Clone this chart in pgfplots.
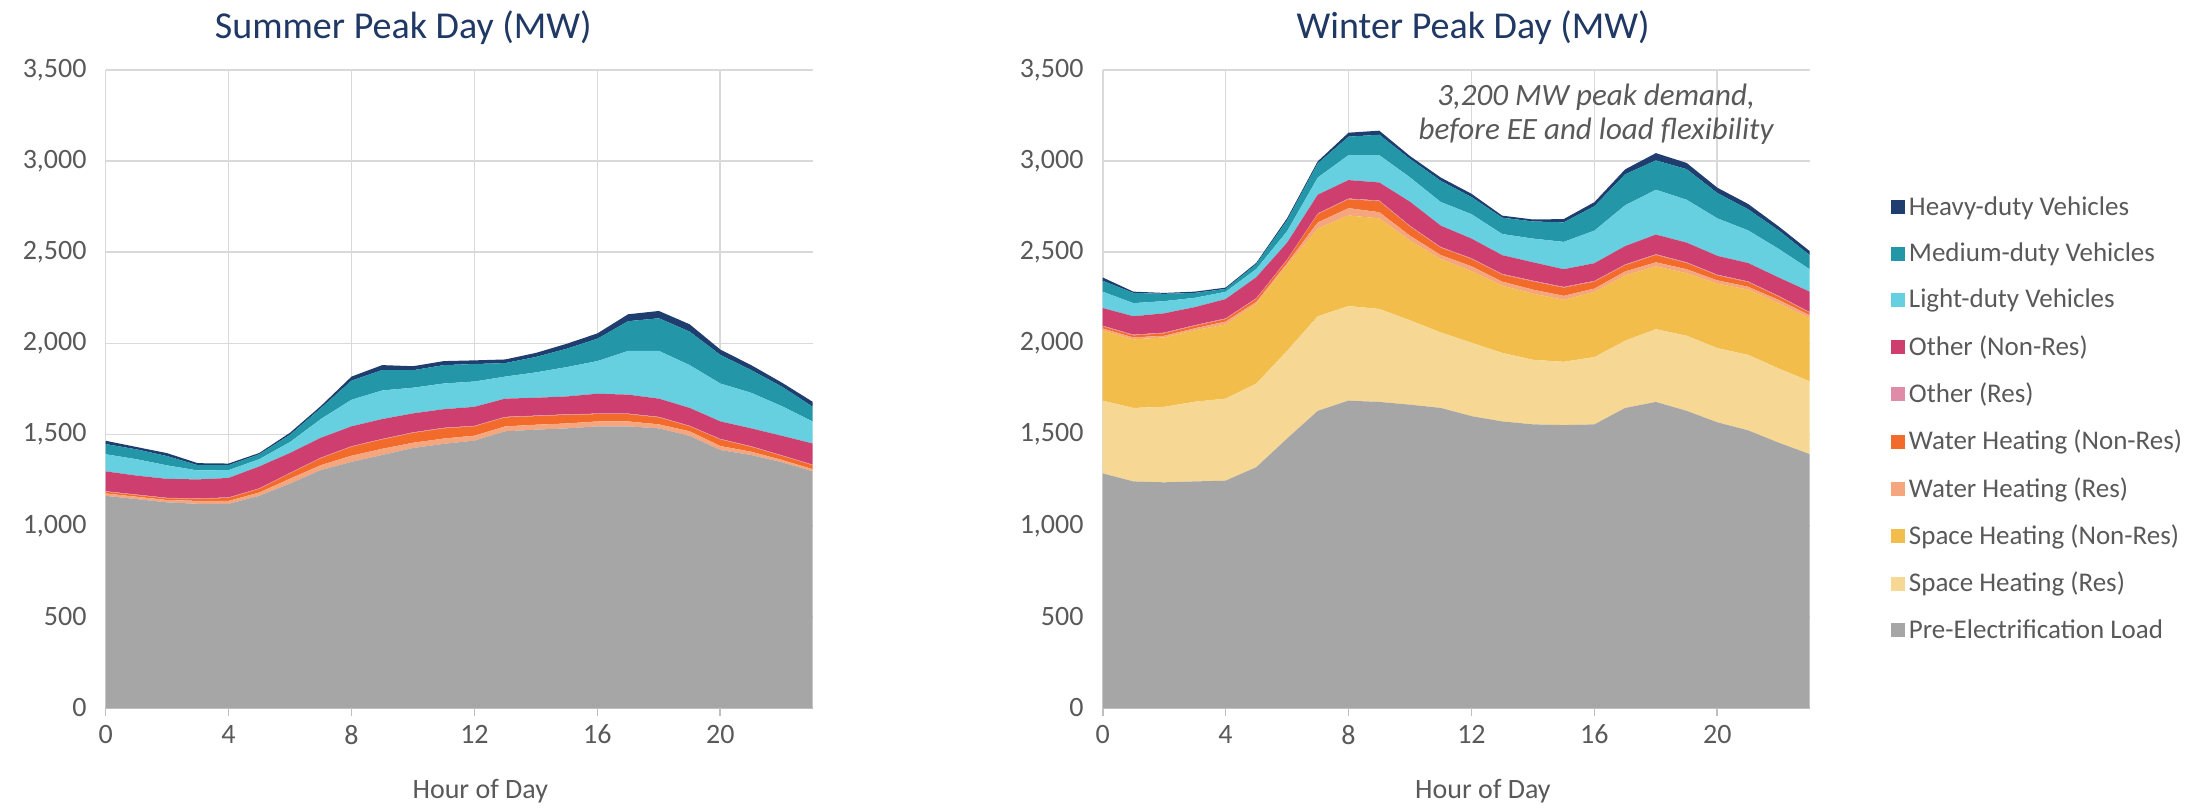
\documentclass[border=0pt]{standalone}
\usepackage{fontspec}
\setmainfont{Carlito}
\usepackage{pgfplots}
\usepackage{pgfplotstable}
\pgfplotsset{compat=1.18}
\definecolor{hdv}{HTML}{1F3D6E}
\definecolor{mdv}{HTML}{2397A8}
\definecolor{ldv}{HTML}{66CFE0}
\definecolor{onr}{HTML}{CE3F6F}
\definecolor{oth}{HTML}{E08CA8}
\definecolor{wnr}{HTML}{F26B2A}
\definecolor{wr}{HTML}{F5A67E}
\definecolor{shnr}{HTML}{F2BD4B}
\definecolor{shr}{HTML}{F7D794}
\definecolor{gray}{HTML}{A6A6A6}
\definecolor{gridc}{HTML}{D9D9D9}
\definecolor{axisc}{HTML}{BFBFBF}
\definecolor{txt}{HTML}{595959}
\definecolor{ttl}{HTML}{1F3864}

\pgfplotstableread{
h gray wr wnr oth onr ldv mdv hdv
0 1164 13 9 3 109 94 56 18
1 1146 13 9 3 104 90 54 13
2 1128 13 9 3 104 74 51 16
3 1120 16 11 3 104 49 29 11
4 1120 16 16 3 107 43 27 9
5 1164 18 20 3 120 40 27 7
6 1231 27 29 3 109 60 40 11
7 1305 27 38 3 109 103 60 11
8 1350 34 49 3 109 146 105 22
9 1388 34 51 3 109 157 112 27
10 1426 29 54 3 104 141 96 22
11 1449 29 56 3 102 141 101 22
12 1467 27 51 3 104 139 96 20
13 1518 27 49 3 100 121 74 20
14 1527 27 47 3 98 139 85 22
15 1534 27 47 3 98 161 101 27
16 1545 27 40 3 109 179 123 29
17 1545 27 40 3 104 240 163 38
18 1534 22 38 3 100 262 179 40
19 1493 25 27 3 98 235 184 40
20 1415 22 36 3 96 208 157 29
21 1388 18 27 3 98 195 125 27
22 1348 13 22 3 107 163 107 22
23 1299 11 22 3 116 121 81 27
}\summer

\pgfplotstableread{
h gray shr shnr wr wnr oth onr ldv mdv hdv
0 1287 399 385 11 11 4 97 90 60 18
1 1243 403 376 11 11 4 101 72 56 7
2 1238 414 381 9 13 4 106 67 40 5
3 1243 437 392 11 13 4 99 51 27 7
4 1247 450 407 16 13 4 106 40 16 7
5 1321 459 437 11 16 4 115 45 27 7
6 1478 481 470 11 16 4 92 63 60 11
7 1630 519 481 34 45 4 103 94 78 11
8 1686 519 497 40 49 4 101 137 101 22
9 1679 510 497 34 60 4 99 150 112 22
10 1664 463 437 27 50 4 132 134 101 16
11 1646 414 403 22 40 4 117 130 116 18
12 1601 403 392 27 40 4 108 134 94 18
13 1572 376 369 22 38 4 103 116 90 11
14 1556 354 363 22 45 4 101 130 94 11
15 1552 347 340 22 45 4 97 150 107 18
16 1556 369 358 18 38 4 97 179 134 22
17 1646 369 358 22 34 4 101 224 170 27
18 1679 399 345 22 40 4 108 246 161 40
19 1630 412 343 22 34 4 108 235 168 34
20 1567 407 354 18 27 4 103 206 139 29
21 1523 414 358 16 25 4 101 179 116 29
22 1455 407 358 18 18 4 101 157 101 22
23 1393 399 347 16 13 4 112 123 78 22
}\winter

\pgfplotsset{
  common/.style={
    scale only axis, width=353.5pt, height=319pt,
    anchor=south west, clip=false,
    xmin=0, xmax=23, ymin=0, ymax=3500,
    xtick={0,4,...,20}, ytick={0,500,...,3500},
    stack plots=y,
    grid=major, grid style={draw=gridc, line width=0.9pt},
    axis x line*=bottom, axis y line*=left,
    x axis line style={draw=axisc, line width=0.9pt, -},
    y axis line style={draw=gridc, line width=0.9pt, -},
    tick align=outside, major tick length=4pt,
    xtick style={draw=axisc, line width=0.9pt},
    ytick style={draw=none},
    /pgf/number format/.cd, 1000 sep={,}, assume math mode=true,
    /pgfplots/.cd,
    tick label style={font=\fontsize{14}{17}\selectfont, text=txt},
    yticklabel style={xshift=-2pt},
    xticklabel style={yshift=-1pt},
  },
  ar/.style={fill=#1, draw=none},
}

\begin{document}
\begin{tikzpicture}
\useasboundingbox (0,0) rectangle (1104pt,404pt);

\begin{axis}[common, at={(52.8pt,50pt)}]
\addplot[ar=gray] table[x=h,y=gray]{\summer} \closedcycle;
\addplot[ar=wr] table[x=h,y=wr]{\summer} \closedcycle;
\addplot[ar=wnr] table[x=h,y=wnr]{\summer} \closedcycle;
\addplot[ar=oth] table[x=h,y=oth]{\summer} \closedcycle;
\addplot[ar=onr] table[x=h,y=onr]{\summer} \closedcycle;
\addplot[ar=ldv] table[x=h,y=ldv]{\summer} \closedcycle;
\addplot[ar=mdv] table[x=h,y=mdv]{\summer} \closedcycle;
\addplot[ar=hdv] table[x=h,y=hdv]{\summer} \closedcycle;
\node[font=\fontsize{19}{22}\selectfont, text=ttl] at (rel axis cs:0.421,1.066) {Summer Peak Day (MW)};
\node[font=\fontsize{14}{17}\selectfont, text=txt] at (rel axis cs:0.53,-0.130) {Hour of Day};
\end{axis}

\begin{axis}[common, at={(551.3pt,50pt)},
  reverse legend,
  legend style={draw=none, fill=none, at={(rel axis cs:1.106,0.815)}, anchor=north west,
    font=\fontsize{13.5}{16}\selectfont, text=txt, row sep=8.3pt,
    /tikz/every even column/.append style={column sep=2pt}},
  legend cell align=left,
  legend image code/.code={\fill[#1] (0pt,-3.5pt) rectangle (7pt,3.5pt);},
]
\addplot[ar=gray] table[x=h,y=gray]{\winter} \closedcycle;
\addlegendentry{Pre-Electrification Load}
\addplot[ar=shr] table[x=h,y=shr]{\winter} \closedcycle;
\addlegendentry{Space Heating (Res)}
\addplot[ar=shnr] table[x=h,y=shnr]{\winter} \closedcycle;
\addlegendentry{Space Heating (Non-Res)}
\addplot[ar=wr] table[x=h,y=wr]{\winter} \closedcycle;
\addlegendentry{Water Heating (Res)}
\addplot[ar=wnr] table[x=h,y=wnr]{\winter} \closedcycle;
\addlegendentry{Water Heating (Non-Res)}
\addplot[ar=oth] table[x=h,y=oth]{\winter} \closedcycle;
\addlegendentry{Other (Res)}
\addplot[ar=onr] table[x=h,y=onr]{\winter} \closedcycle;
\addlegendentry{Other (Non-Res)}
\addplot[ar=ldv] table[x=h,y=ldv]{\winter} \closedcycle;
\addlegendentry{Light-duty Vehicles}
\addplot[ar=mdv] table[x=h,y=mdv]{\winter} \closedcycle;
\addlegendentry{Medium-duty Vehicles}
\addplot[ar=hdv] table[x=h,y=hdv]{\winter} \closedcycle;
\addlegendentry{Heavy-duty Vehicles}
\node[font=\fontsize{19}{22}\selectfont, text=ttl] at (rel axis cs:0.524,1.066) {Winter Peak Day (MW)};
\node[font=\fontsize{14}{17}\selectfont, text=txt] at (rel axis cs:0.538,-0.130) {Hour of Day};
\node[font=\fontsize{15.5}{17}\selectfont\itshape, text=txt, align=center] at (rel axis cs:0.698,0.931) {3,200 MW peak demand,\\before EE and load flexibility};
\end{axis}
\end{tikzpicture}
\end{document}
